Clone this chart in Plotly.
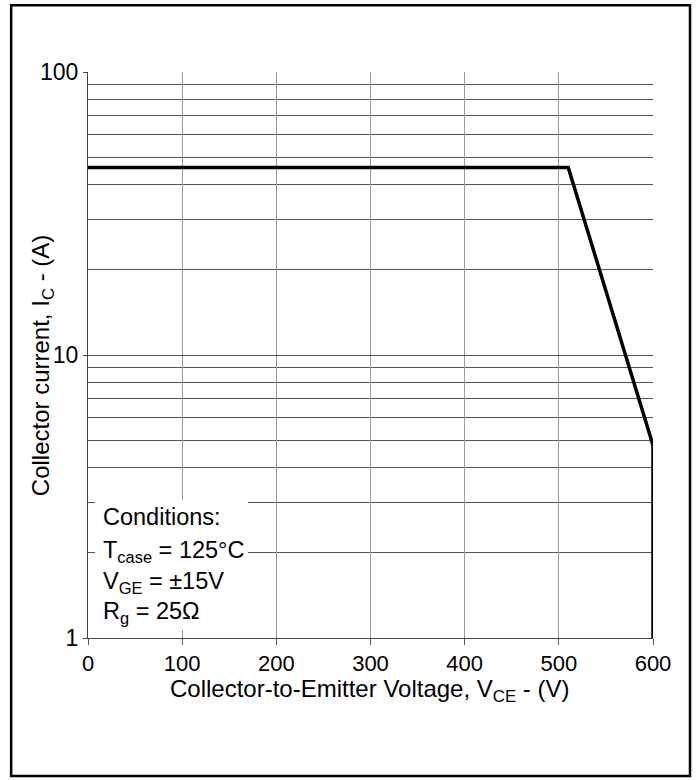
import plotly.graph_objects as go

# ---------------------------------------------------------
# DATA
# ---------------------------------------------------------

vce = [0, 510, 600, 600]
ic = [46, 46, 4.8, 1]

x_ticks = [0, 100, 200, 300, 400, 500, 600]
y_major = [1, 10, 100]
y_major_text = ["1", "10", "100"]
y_minor = [2, 3, 4, 5, 6, 7, 8, 9, 20, 30, 40, 50, 60, 70, 80, 90]

conditions = [
    "Conditions:",
    "T<sub>case</sub> = 125°C",
    "V<sub>GE</sub> = ±15V",
    "R<sub>g</sub> = 25Ω",
]

FONT = "Liberation Sans, Arial, Helvetica, sans-serif"

# ---------------------------------------------------------
# FIGURE
# ---------------------------------------------------------

fig = go.Figure()

fig.add_trace(
    go.Scatter(
        x=vce,
        y=ic,
        mode="lines",
        line=dict(color="black", width=3.5),
        hoverinfo="skip",
        showlegend=False,
    )
)

fig.update_layout(
    width=696,
    height=780,
    margin=dict(l=88, r=43, t=72, b=142),
    paper_bgcolor="white",
    plot_bgcolor="white",
    font=dict(family=FONT, size=23, color="black"),
    showlegend=False,
)

fig.update_xaxes(
    range=[0, 600],
    tickvals=x_ticks,
    ticks="outside",
    ticklen=6,
    tickcolor="#555",
    showgrid=True,
    gridcolor="#999",
    gridwidth=1,
    showline=True,
    linecolor="#444",
    linewidth=1,
    zeroline=False,
    tickfont=dict(size=22),
)

fig.update_yaxes(
    type="log",
    range=[0, 2],
    tickvals=y_major,
    ticktext=y_major_text,
    ticks="outside",
    ticklen=4,
    tickcolor="#444",
    showgrid=True,
    gridcolor="#555",
    gridwidth=1,
    minor=dict(tickvals=y_minor, showgrid=True, gridcolor="#555", gridwidth=1, ticks=""),
    showline=True,
    linecolor="#444",
    linewidth=1,
    zeroline=False,
    tickfont=dict(size=23),
)

# outer frame round the whole sheet
fig.add_shape(
    type="rect",
    xref="paper",
    yref="paper",
    x0=-0.136,
    x1=1.0655,
    y0=-0.2438,
    y1=1.118,
    line=dict(color="black", width=2.5),
    fillcolor="rgba(0,0,0,0)",
    layer="above",
)

# white box behind the conditions text
fig.add_shape(
    type="rect",
    xref="paper",
    yref="paper",
    x0=0.0124,
    x1=0.283,
    y0=0.014,
    y1=0.244,
    line=dict(width=0),
    fillcolor="white",
    layer="above",
)

cond_y = [0.2138, 0.1537, 0.0972, 0.0442]
for txt, yy in zip(conditions, cond_y):
    fig.add_annotation(
        text=txt,
        xref="paper",
        yref="paper",
        x=0.023,
        y=yy,
        xanchor="left",
        yanchor="middle",
        showarrow=False,
        font=dict(size=23.5),
    )

# axis titles
fig.add_annotation(
    text="Collector-to-Emitter Voltage, V<sub>CE</sub> - (V)",
    xref="paper",
    yref="paper",
    x=0.499,
    y=-0.093,
    xanchor="center",
    yanchor="middle",
    showarrow=False,
    font=dict(size=24),
)

fig.add_annotation(
    text="Collector current, I<sub>C</sub> - (A)",
    xref="paper",
    yref="paper",
    x=-0.0814,
    y=0.482,
    xanchor="center",
    yanchor="middle",
    textangle=-90,
    showarrow=False,
    font=dict(size=24),
)

# drop the browser's default 8px body margin so the sheet sits at the page corner
fig.write_html(
    "out.html",
    config={"displayModeBar": False},
    post_script="document.body.style.margin = '0';",
)
